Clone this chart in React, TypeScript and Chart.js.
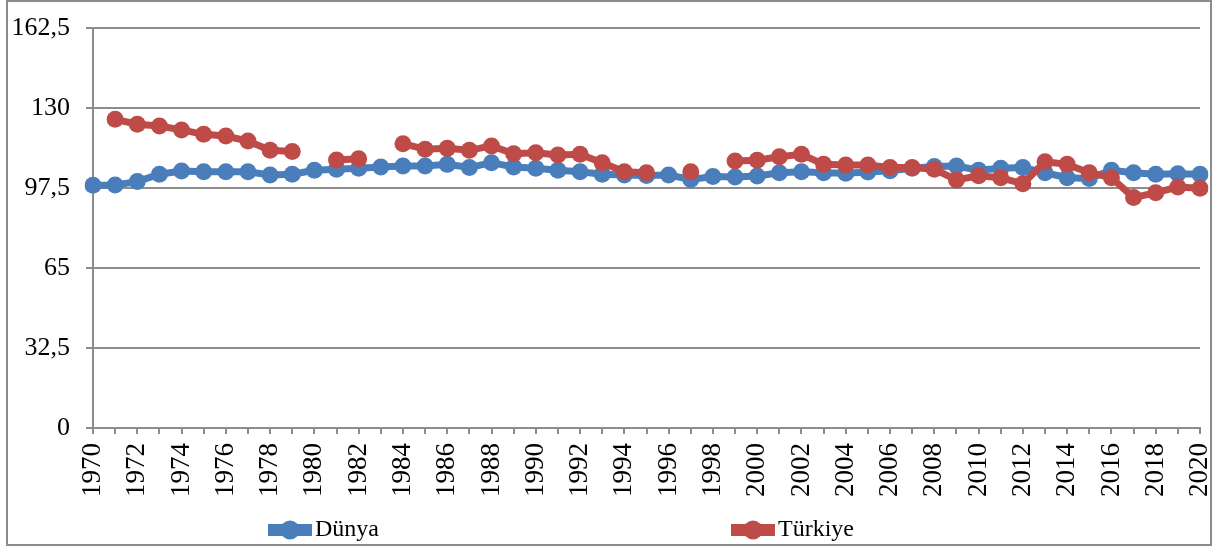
import React, { useEffect, useRef } from "react";
import { Chart, registerables } from "chart.js";

Chart.register(...registerables);

const years: string[] = [];
for (let y = 1970; y <= 2020; y++) years.push(String(y));

const dunya: number[] = [
  98.6, 98.7, 100.1, 103.1, 104.4, 104.1, 104.1, 104.1, 102.8, 103.1,
  104.7, 105.1, 105.5, 106.0, 106.4, 106.4, 107.1, 105.8, 107.8, 106.0,
  105.5, 104.7, 104.1, 103.1, 102.8, 102.6, 102.8, 101.0, 102.2, 102.0,
  102.4, 103.7, 104.1, 103.7, 103.5, 104.0, 104.5, 105.5, 106.2, 106.4,
  104.7, 105.5, 105.8, 103.7, 101.7, 101.4, 104.7, 103.7, 103.1, 103.3,
  103.1,
];

const turkiye: (number | null)[] = [
  null, 125.4, 123.4, 122.7, 121.1, 119.3, 118.6, 116.6, 112.8, 112.3,
  null, 108.9, 109.4, null, 115.5, 113.2, 113.6, 112.8, 114.6, 111.4,
  111.8, 110.9, 111.2, 107.8, 104.1, 103.7, null, 104.1, null, 108.5,
  108.8, 110.2, 111.2, 107.1, 106.8, 106.8, 105.8, 105.8, 105.1, 100.8,
  102.5, 101.7, 99.2, 108.2, 107.1, 103.7, 101.7, 93.6, 95.6, 97.9,
  97.4,
];

const seriesNames = ["Dünya", "Türkiye"];
const seriesColors = ["#4A7EBB", "#BE4B48"];

const FONT = "'Liberation Serif', 'Times New Roman', serif";
const GRID = "#8C8C8C";

const framePlugin = {
  id: "frameAndLegend",
  afterDraw(chart: any) {
    const ctx = chart.ctx;
    ctx.save();
    ctx.strokeStyle = GRID;
    ctx.lineWidth = 2;
    ctx.strokeRect(7, 1, 1204, 544);
    const items = [
      { x: 268, name: seriesNames[0], color: seriesColors[0] },
      { x: 731, name: seriesNames[1], color: seriesColors[1] },
    ];
    const cy = 530;
    items.forEach((it) => {
      ctx.fillStyle = it.color;
      ctx.fillRect(it.x, cy - 6, 44, 12);
      ctx.beginPath();
      ctx.arc(it.x + 22, cy, 9.5, 0, Math.PI * 2);
      ctx.fill();
      ctx.fillStyle = "#000";
      ctx.font = `24px ${FONT}`;
      ctx.textBaseline = "middle";
      ctx.textAlign = "left";
      ctx.fillText(it.name, it.x + 47, cy);
    });
    ctx.restore();
  },
};

export default function App() {
  const ref = useRef<HTMLCanvasElement>(null);
  useEffect(() => {
    document.body.style.margin = "0";
    const chart = new Chart(ref.current!, {
      type: "line",
      data: {
        labels: years,
        datasets: [
          {
            label: seriesNames[0],
            data: dunya,
            borderColor: seriesColors[0],
            backgroundColor: seriesColors[0],
            borderWidth: 7,
            pointRadius: 8.5,
            pointBorderWidth: 0,
            pointHoverRadius: 8.5,
            spanGaps: false,
            order: 1,
          },
          {
            label: seriesNames[1],
            data: turkiye,
            borderColor: seriesColors[1],
            backgroundColor: seriesColors[1],
            borderWidth: 7,
            pointRadius: 8.5,
            pointBorderWidth: 0,
            pointHoverRadius: 8.5,
            spanGaps: false,
            order: 0,
          },
        ],
      },
      options: {
        animation: false,
        responsive: false,
        maintainAspectRatio: false,
        layout: { padding: { left: 0, right: 14, top: 28, bottom: 0 } },
        plugins: { legend: { display: false }, tooltip: { enabled: false } },
        scales: {
          x: {
            offset: false,
            grid: {
              drawOnChartArea: false,
              drawTicks: true,
              tickLength: 6,
              color: GRID,
              lineWidth: 2,
            },
            border: { color: GRID, width: 2 },
            ticks: {
              autoSkip: false,
              minRotation: 90,
              maxRotation: 90,
              padding: 9,
              color: "#000",
              font: { family: FONT, size: 27 },
              callback: (v: any, i: number) => (i % 2 === 0 ? years[i] : ""),
            },
            afterFit: (s: any) => {
              s.height = 121;
              s.paddingLeft = 0;
              s.paddingRight = 0;
            },
          },
          y: {
            min: 0,
            max: 162.5,
            grid: {
              color: GRID,
              lineWidth: 2,
              tickLength: 7,
              drawTicks: true,
            },
            border: { color: GRID, width: 2 },
            ticks: {
              stepSize: 32.5,
              padding: 16,
              color: "#000",
              font: { family: FONT, size: 26 },
              callback: (v: any) =>
                String(Math.round(Number(v) * 10) / 10).replace(".", ","),
            },
            afterFit: (s: any) => {
              s.width = 93;
              s.paddingTop = 0;
              s.paddingBottom = 0;
            },
          },
        },
      },
      plugins: [framePlugin],
    });
    return () => chart.destroy();
  }, []);
  return (
    <div style={{ width: 1214, height: 549 }}>
      <canvas ref={ref} width={1214} height={549} />
    </div>
  );
}
